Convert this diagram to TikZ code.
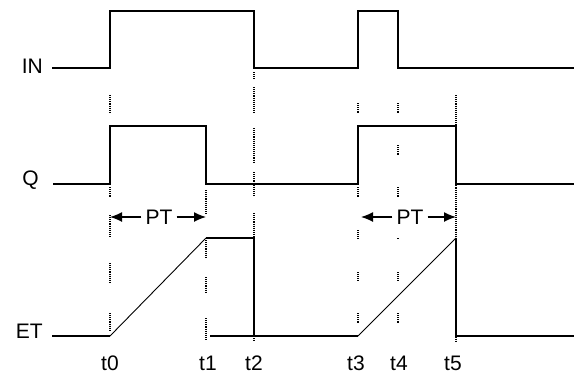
\documentclass[tikz,border=0pt]{standalone}
\usepackage{fontspec}
\setmainfont{Liberation Sans}
\usetikzlibrary{arrows.meta}

\tikzset{
    sig/.style={line width=1.6pt},
    ramp/.style={line width=0.9pt},
    dotline/.style={line width=1.3pt, dash pattern=on 1.1pt off 1pt},
    lbl/.style={font=\fontsize{21}{22}\selectfont, inner sep=0pt},
    ptlbl/.style={lbl, inner xsep=4pt},
}

\begin{document}
\begin{tikzpicture}[x=1pt, y=-1pt, >={Latex[length=12pt,width=10pt]}]
    \useasboundingbox (0,0) rectangle (574,376);

    % signal names
    \node[lbl, anchor=east] (in) at (43,66) {IN};
    \node[lbl, anchor=east] (q)  at (39,180) {Q};
    \node[lbl, anchor=east] (et) at (43,331) {ET};

    % IN and Q
    \draw[sig] (52,68) -- (110,68) -- (110,11) -- (254,11) -- (254,68)
        -- (358,68) -- (358,11) -- (398,11) -- (398,68) -- (574,68);
    \draw[sig] (53,184) -- (110,184) -- (110,126) -- (206,126) -- (206,184)
        -- (358,184) -- (358,126) -- (456,126) -- (456,184) -- (574,184);

    % ET
    \draw[sig] (52,336) -- (110,336);
    \draw[ramp] (110,336) -- (206,238);
    \draw[sig] (206,238) -- (254,238) -- (254,336);
    \draw[sig] (210,336) -- (358,336);
    \draw[ramp] (358,336) -- (456,238);
    \draw[sig] (456,238) -- (456,336) -- (574,336);

    % time marks
    \foreach \x/\a/\b in {110/95/113, 110/187/197, 110/215/238, 110/263/282, 110/313/330,
                          206/190/215, 206/240/257, 206/277/292, 206/318/340,
                          254/72/80, 254/87/113, 254/128/163, 254/172/197, 254/213/238, 254/336/342,
                          358/103/113, 358/187/197, 358/230/239, 358/272/281, 358/313/323,
                          398/103/113, 398/145/155, 398/187/197, 398/238/240, 398/272/281, 398/313/323,
                          456/95/342} {
        \draw[dotline] (\x,\a) -- (\x,\b);
    }

    \foreach \n/\x in {0/110, 1/208, 2/254, 3/356, 4/399, 5/453} {
        \node[lbl] (t\n) at (\x,363) {t\n};
    }

    % preset time
    \coordinate (a0) at (110,217);
    \coordinate (a1) at (206,217);
    \coordinate (a3) at (361,217);
    \coordinate (a5) at (456,217);
    \node[ptlbl] (pt1) at (159,217) {PT};
    \node[ptlbl] (pt2) at (410,217) {PT};
    \draw[->, line width=1.3pt] (pt1) -- (a0);
    \draw[->, line width=1.3pt] (pt1) -- (a1);
    \draw[->, line width=1.3pt] (pt2) -- (a3);
    \draw[->, line width=1.3pt] (pt2) -- (a5);
\end{tikzpicture}
\end{document}
